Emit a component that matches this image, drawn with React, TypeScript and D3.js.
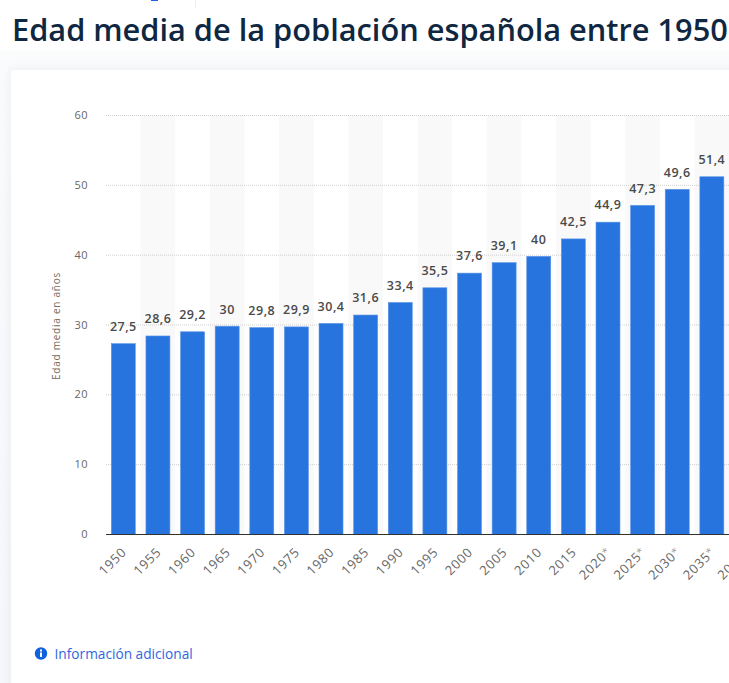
import React from "react";
import * as d3 from "d3";

const years = ["1950","1955","1960","1965","1970","1975","1980","1985","1990","1995","2000","2005","2010","2015","2020*","2025*","2030*","2035*"];
const clippedYear = "2040*";
const values = [27.5,28.6,29.2,30,29.8,29.9,30.4,31.6,33.4,35.5,37.6,39.1,40,42.5,44.9,47.3,49.6,51.4];
const yTicks = [0,10,20,30,40,50,60];
const title = "Edad media de la población española entre 1950";
const yLabel = "Edad media en años";
const infoText = "Información adicional";

const W = 729, H = 683;
const FONT = "'Open Sans', sans-serif";

export default function App() {
  const all = [...years, clippedYear];
  const step = 34.62;
  const x = d3.scaleBand<string>().domain(all).range([106, 106 + step * all.length]).paddingInner(0.29).paddingOuter(0.145);
  const band = d3.scaleBand<string>().domain(all).range([106, 106 + step * all.length]);
  const y = d3.scaleLinear().domain([0, 60]).range([534.5, 115.5]);
  const fmt = (v: number) => String(v).replace(".", ",");
  return (
    <svg width={W} height={H} viewBox={`0 0 ${W} ${H}`} style={{ position: "absolute", left: 0, top: 0, display: "block" }}>
      <defs>
        <linearGradient id="pg" x1="0" y1="0" x2="0" y2="1">
          <stop offset="0" stopColor="#ffffff" />
          <stop offset="0.1" stopColor="#fafbfc" />
          <stop offset="1" stopColor="#f6f7fa" />
        </linearGradient>
        <filter id="sh" x="-5%" y="-5%" width="110%" height="110%">
          <feDropShadow dx="0" dy="0" stdDeviation="6" floodColor="#9aa5b5" floodOpacity="0.18" />
        </filter>
      </defs>
      <rect x={0} y={0} width={W} height={H} fill="url(#pg)" />
      <rect x={0} y={0} width={W} height={50} fill="#ffffff" />
      <rect x={195} y={0} width={1} height={8} fill="#eceef1" />
      <rect x={151} y={0} width={7} height={1} fill="#1f5fe0" />
      <text x={12} y={41} fontFamily={FONT} fontSize={30.75} fontWeight={600} fill="#0f2741">{title}</text>
      <rect x={11} y={70} width={W + 20} height={H} rx={4} fill="#ffffff" filter="url(#sh)" />

      {all.map((c, i) => i % 2 === 1 ? (
        <rect key={c} x={band(c)!} y={115} width={band.bandwidth()} height={419} fill="#f9f9f9" />
      ) : null)}

      {yTicks.map(t => (
        <g key={t}>
          {t > 0 && <line x1={106} x2={W} y1={y(t)} y2={y(t)} stroke="#cfcfcf" strokeWidth={1} strokeDasharray="1 1" />}
          <text x={88} y={y(t) + 3.5} textAnchor="end" fontFamily={FONT} fontSize={11} letterSpacing={0.4} fill="#666666">{t}</text>
        </g>
      ))}

      {years.map((c, i) => (
        <rect key={c} x={x(c)! + 0.3} y={y(values[i]) + 1.2} width={x.bandwidth() - 0.6} height={y(0) - y(values[i]) - 1.2} fill="#2874de" stroke="#5a94e6" strokeWidth={0.6} />
      ))}

      {years.map((c, i) => (
        <text key={c} x={x(c)! + x.bandwidth() / 2} y={y(values[i]) - 11.5} textAnchor="middle" fontFamily={FONT} fontSize={12.5} fontWeight={600} letterSpacing={0.5} fill="#4a4a4a">{fmt(values[i])}</text>
      ))}

      <line x1={106} x2={W} y1={534.5} y2={534.5} stroke="#333333" strokeWidth={1} />

      {all.map(c => {
        const cx = x(c)! + x.bandwidth() / 2;
        const star = c.endsWith("*");
        return (
          <text key={c} transform={`translate(${cx + 4},${553}) rotate(-45)`} textAnchor="end" fontFamily={FONT} fontSize={13} letterSpacing={0.7} fill="#666666">
            {star ? c.slice(0, -1) : c}{star && <tspan fill="#999999" fontSize={10} dy={-2}>*</tspan>}
          </text>
        );
      })}

      <text transform={`translate(60,326) rotate(-90)`} textAnchor="middle" fontFamily={FONT} fontSize={10} letterSpacing={0.75} fill="#7a6a5a">{yLabel}</text>

      <circle cx={41} cy={653.5} r={6.2} fill="#0f62dc" />
      <rect x={40} y={652.5} width={2} height={4.5} fill="#ffffff" />
      <rect x={40} y={649.5} width={2} height={2} fill="#ffffff" />
      <text x={54.5} y={659} fontFamily={FONT} fontSize={13.7} fill="#2f66e0">{infoText}</text>
    </svg>
  );
}
